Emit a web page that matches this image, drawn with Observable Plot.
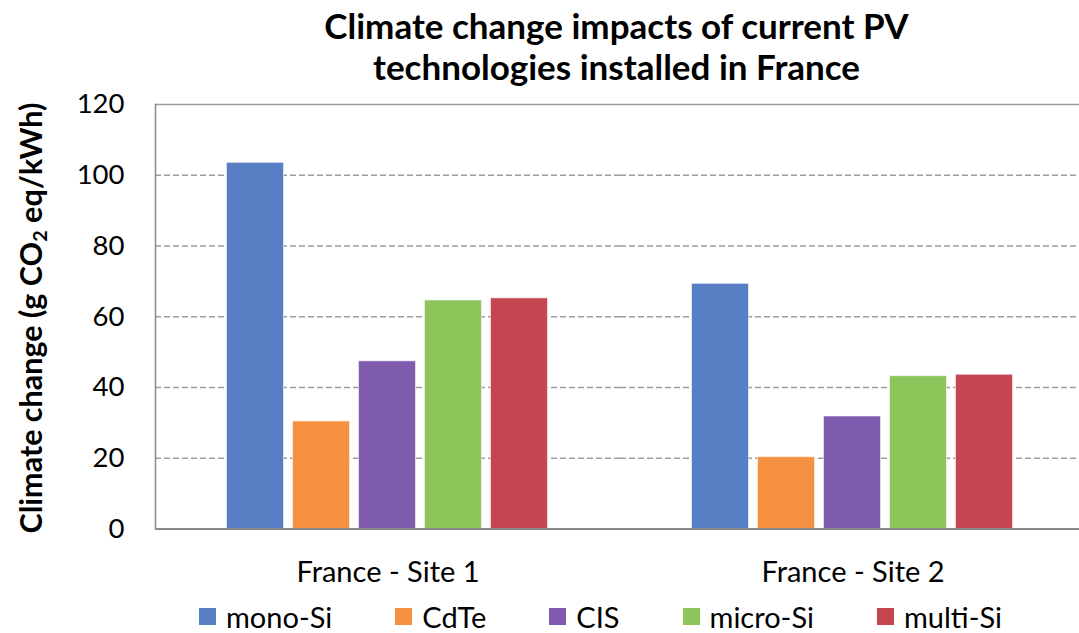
<!DOCTYPE html>
<html>
<head>
<meta charset="utf-8">
<script src="https://cdn.jsdelivr.net/npm/d3@7"></script>
<script src="https://cdn.jsdelivr.net/npm/@observablehq/plot@0.6"></script>
<style>
  html, body { margin: 0; padding: 0; background: #fff; }
  #wrap { position: relative; width: 1079px; height: 633px; font-family: Lato, "Open Sans", sans-serif; color: #000; overflow: hidden; }
  #title { position: absolute; top: 5px; left: 154px; width: 925px; text-align: center; font-weight: bold; font-size: 35px; line-height: 41px; }
  #ylabel { position: absolute; left: 30px; top: 318px; transform: translate(-50%, -50%) rotate(-90deg); white-space: nowrap; font-weight: bold; font-size: 30.5px; line-height: 1; }
  #ylabel sub { font-size: 0.65em; vertical-align: -0.25em; line-height: 0; }
  #chart { position: absolute; left: 0; top: 0; }
  #legend { position: absolute; left: 199px; top: 602px; display: flex; gap: 63px; font-size: 29px; line-height: 1; align-items: center; }
  #legend .item { display: flex; align-items: center; gap: 10px; }
  #legend .sw { width: 17px; height: 17px; display: inline-block; }
</style>
</head>
<body>
<div id="wrap">
  <div id="chart"></div>
  <div id="title">Climate change impacts of current PV<br>technologies installed in France</div>
  <div id="ylabel">Climate change (g CO<sub>2</sub> eq/kWh)</div>
  <div id="legend"></div>
</div>
<script>
// ---- data ----
const sites = ["France - Site 1", "France - Site 2"];
const techs = ["mono-Si", "CdTe", "CIS", "micro-Si", "multi-Si"];
const site1Values = [103.5, 30.4, 47.4, 64.6, 65.2];
const site2Values = [69.3, 20.3, 31.8, 43.2, 43.6];
const techColors = ["#587FC4", "#F79142", "#7E5BAD", "#8EC55B", "#C34650"];
const yTicks = [0, 20, 40, 60, 80, 100, 120];
const gridTicks = [20, 40, 60, 80, 100];

const seriesBySite = [site1Values, site2Values];
const data = [];
sites.forEach((s, i) => techs.forEach((t, j) => data.push({site: s, tech: t, value: seriesBySite[i][j]})));

const chart = Plot.plot({
  width: 1079,
  height: 600,
  marginTop: 104,
  marginBottom: 71.5,
  marginLeft: 154.5,
  marginRight: -5.5,
  style: {fontFamily: "Lato, 'Open Sans', sans-serif", background: "transparent", color: "#000"},
  fx: {domain: sites, padding: 0, label: null},
  x: {domain: techs, paddingInner: 0.136, paddingOuter: 1.09, axis: null},
  y: {domain: [0, 120], ticks: yTicks},
  color: {domain: techs, range: techColors},
  marks: [
    Plot.gridY(gridTicks, {stroke: "#9c9c9c", strokeOpacity: 1, strokeWidth: 1.5, strokeDasharray: "6,3"}),
    Plot.barY(data, {fx: "site", x: "tech", y: "value", fill: "tech", stroke: "#ffffff", strokeOpacity: 0.55, strokeWidth: 1}),
    Plot.ruleY([120], {stroke: "#9a9a9a", strokeWidth: 1.5}),
    Plot.ruleY([0], {stroke: "#8a8a8a", strokeWidth: 2}),
    Plot.frame({anchor: "left", facetAnchor: "left", stroke: "#8a8a8a", strokeWidth: 1.5}),
    Plot.axisY(yTicks, {anchor: "left", tickSize: 0, tickPadding: 31, fontSize: 27.5, label: null, facetAnchor: "left"}),
    Plot.axisFx({anchor: "bottom", tickSize: 0, tickPadding: 32, fontSize: 29, label: null})
  ]
});
document.getElementById("chart").appendChild(chart);

const legend = document.getElementById("legend");
techs.forEach((t, i) => {
  const item = document.createElement("div");
  item.className = "item";
  const sw = document.createElement("span");
  sw.className = "sw";
  sw.style.background = techColors[i];
  const lab = document.createElement("span");
  lab.textContent = t;
  item.appendChild(sw);
  item.appendChild(lab);
  legend.appendChild(item);
});
</script>
</body>
</html>
